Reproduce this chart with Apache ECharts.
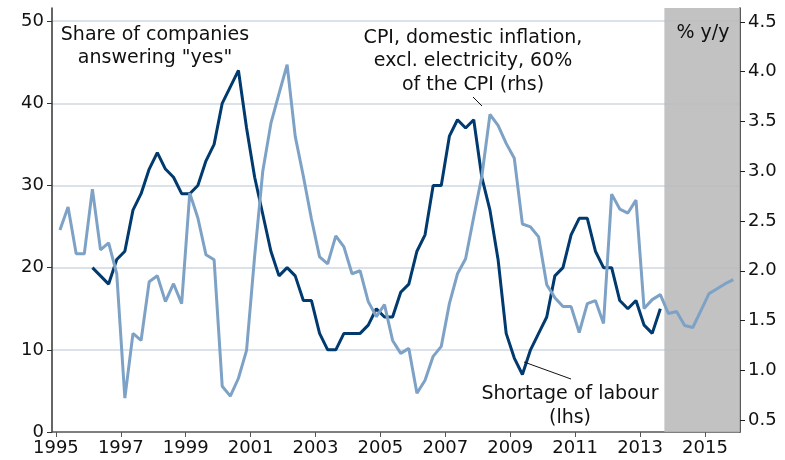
<!DOCTYPE html>
<html>
<head>
<meta charset="utf-8">
<script src="https://cdn.jsdelivr.net/npm/echarts@6/dist/echarts.min.js"></script>
<style>
  html, body { margin: 0; padding: 0; background: #fff; }
  #main { width: 785px; height: 460px; }
</style>
</head>
<body>
<div id="main"></div>
<script type="text/javascript">
    // quarterly data, plotted at quarter mid-points
    var cpiStart = 1995;      // first quarter of the CPI series (1995 Q1)
    var labourStart = 1996;   // first quarter of the survey series (1996 Q1)

    // CPI, domestic inflation excl. electricity, % y/y (rhs)
    var cpiValues = [
        2.41, 2.64, 2.17, 2.17, 2.82, 2.21, 2.28, 1.97,
        0.72, 1.37, 1.30, 1.89, 1.95, 1.69, 1.87, 1.67,
        2.78, 2.53, 2.16, 2.11, 0.84, 0.74, 0.92, 1.20,
        2.15, 3.00, 3.48, 3.78, 4.07, 3.35, 2.95, 2.52,
        2.14, 2.07, 2.35, 2.24, 1.97, 2.00, 1.69, 1.54,
        1.66, 1.30, 1.17, 1.22, 0.77, 0.90, 1.14, 1.24,
        1.67, 1.97, 2.12, 2.54, 2.95, 3.57, 3.46, 3.28,
        3.13, 2.47, 2.44, 2.34, 1.86, 1.73, 1.64, 1.64,
        1.38, 1.67, 1.70, 1.47, 2.77, 2.62, 2.58, 2.71,
        1.62, 1.71, 1.76, 1.57, 1.59, 1.45, 1.43, 1.60,
        1.77, 1.82, 1.87, 1.91
    ];

    // share of companies answering "yes" to shortage of labour, % (lhs)
    var labourValues = [
        20, 19, 18, 21, 22, 27, 29, 32,
        34, 32, 31, 29, 29, 30, 33, 35,
        40, 42, 44, 37, 31, 26.5, 22, 19,
        20, 19, 16, 16, 12, 10, 10, 12,
        12, 12, 13, 15, 14, 14, 17, 18,
        22, 24, 30, 30, 36, 38, 37, 38,
        31, 27, 21, 12, 9, 7, 10, 12,
        14, 19, 20, 24, 26, 26, 22, 20,
        20, 16, 15, 16, 13, 12, 15
    ];

    var yearTicks = [1995, 1997, 1999, 2001, 2003, 2005, 2007, 2009, 2011, 2013, 2015];
    var leftTicks = [0, 10, 20, 30, 40, 50];
    var rightTicks = [0.5, 1.0, 1.5, 2.0, 2.5, 3.0, 3.5, 4.0, 4.5];
    var forecastStart = 2013.75;

    function toPairs(startYear, values) {
        return values.map(function (v, i) {
            return [startYear + i * 0.25 + 0.125, v];
        });
    }

    var font = 'DejaVu Sans';
    var noteFont = '19px "DejaVu Sans"';
    var xMin = 1994.88, xMax = 2016.08;

    var myChart = echarts.init(document.getElementById('main'));
    var option = {
        animation: false,
        textStyle: { fontFamily: font },
        grid: { left: 52, right: 45, top: 8, bottom: 28 },
        xAxis: {
            type: 'value',
            min: xMin,
            max: xMax,
            axisLine: { lineStyle: { color: '#555', width: 1.5 } },
            axisTick: { customValues: yearTicks, length: 5, lineStyle: { color: '#555' } },
            axisLabel: {
                customValues: yearTicks,
                margin: 7,
                fontSize: 18,
                color: '#111',
                fontFamily: font,
                formatter: function (v) { return String(v); }
            },
            splitLine: { show: false }
        },
        yAxis: [
            {
                type: 'value',
                min: 0,
                max: 51.6,
                axisLine: { show: true, lineStyle: { color: '#333', width: 1.5 } },
                axisTick: { show: true, customValues: leftTicks, length: 5, lineStyle: { color: '#333' } },
                axisLabel: {
                    customValues: leftTicks,
                    margin: 8,
                    fontSize: 18,
                    color: '#111',
                    fontFamily: font
                },
                splitLine: {
                    show: true,
                    showMinLine: false,
                    lineStyle: { color: '#d0d9e2', width: 1.5 }
                }
            },
            {
                type: 'value',
                min: 0.38,
                max: 4.64,
                position: 'right',
                axisLine: { show: true, lineStyle: { color: '#222', width: 1.5 } },
                axisTick: { show: true, customValues: rightTicks, length: 5, lineStyle: { color: '#222' } },
                axisLabel: {
                    customValues: rightTicks,
                    margin: 8,
                    fontSize: 18,
                    color: '#111',
                    fontFamily: font,
                    formatter: function (v) { return v.toFixed(1); }
                },
                splitLine: { show: false }
            }
        ],
        series: [
            {
                name: 'Shortage of labour',
                type: 'line',
                yAxisIndex: 0,
                showSymbol: false,
                data: toPairs(labourStart, labourValues),
                lineStyle: { color: '#003a6e', width: 3 },
                itemStyle: { color: '#003a6e' },
                markArea: {
                    silent: true,
                    itemStyle: { color: 'rgba(186,186,186,0.88)' },
                    data: [[{ xAxis: forecastStart }, { xAxis: xMax }]]
                }
            },
            {
                name: 'CPI',
                type: 'line',
                yAxisIndex: 1,
                showSymbol: false,
                data: toPairs(cpiStart, cpiValues),
                lineStyle: { color: '#7ea2c6', width: 3 },
                itemStyle: { color: '#7ea2c6' }
            }
        ],
        graphic: [
            {
                type: 'text', x: 155, y: 46.5, z: 100,
                style: {
                    text: 'Share of companies\nanswering "yes"',
                    font: noteFont, fill: '#111',
                    textAlign: 'center', textVerticalAlign: 'middle', lineHeight: 23
                }
            },
            {
                type: 'text', x: 473, y: 61.5, z: 100,
                style: {
                    text: 'CPI, domestic inflation,\nexcl. electricity, 60%\nof the CPI (rhs)',
                    font: noteFont, fill: '#111',
                    textAlign: 'center', textVerticalAlign: 'middle', lineHeight: 23.5
                }
            },
            {
                type: 'text', x: 570, y: 406, z: 100,
                style: {
                    text: 'Shortage of labour\n(lhs)',
                    font: noteFont, fill: '#111',
                    textAlign: 'center', textVerticalAlign: 'middle', lineHeight: 24
                }
            },
            {
                type: 'text', x: 703, y: 33, z: 100,
                style: {
                    text: '% y/y',
                    font: noteFont, fill: '#111',
                    textAlign: 'center', textVerticalAlign: 'middle'
                }
            },
            {
                type: 'line', z: 100,
                shape: { x1: 473, y1: 97, x2: 482, y2: 106 },
                style: { stroke: '#111', lineWidth: 1 }
            },
            {
                type: 'line', z: 100,
                shape: { x1: 524, y1: 362, x2: 571, y2: 379 },
                style: { stroke: '#111', lineWidth: 1 }
            }
        ]
    };
    myChart.setOption(option);
</script>
</body>
</html>
